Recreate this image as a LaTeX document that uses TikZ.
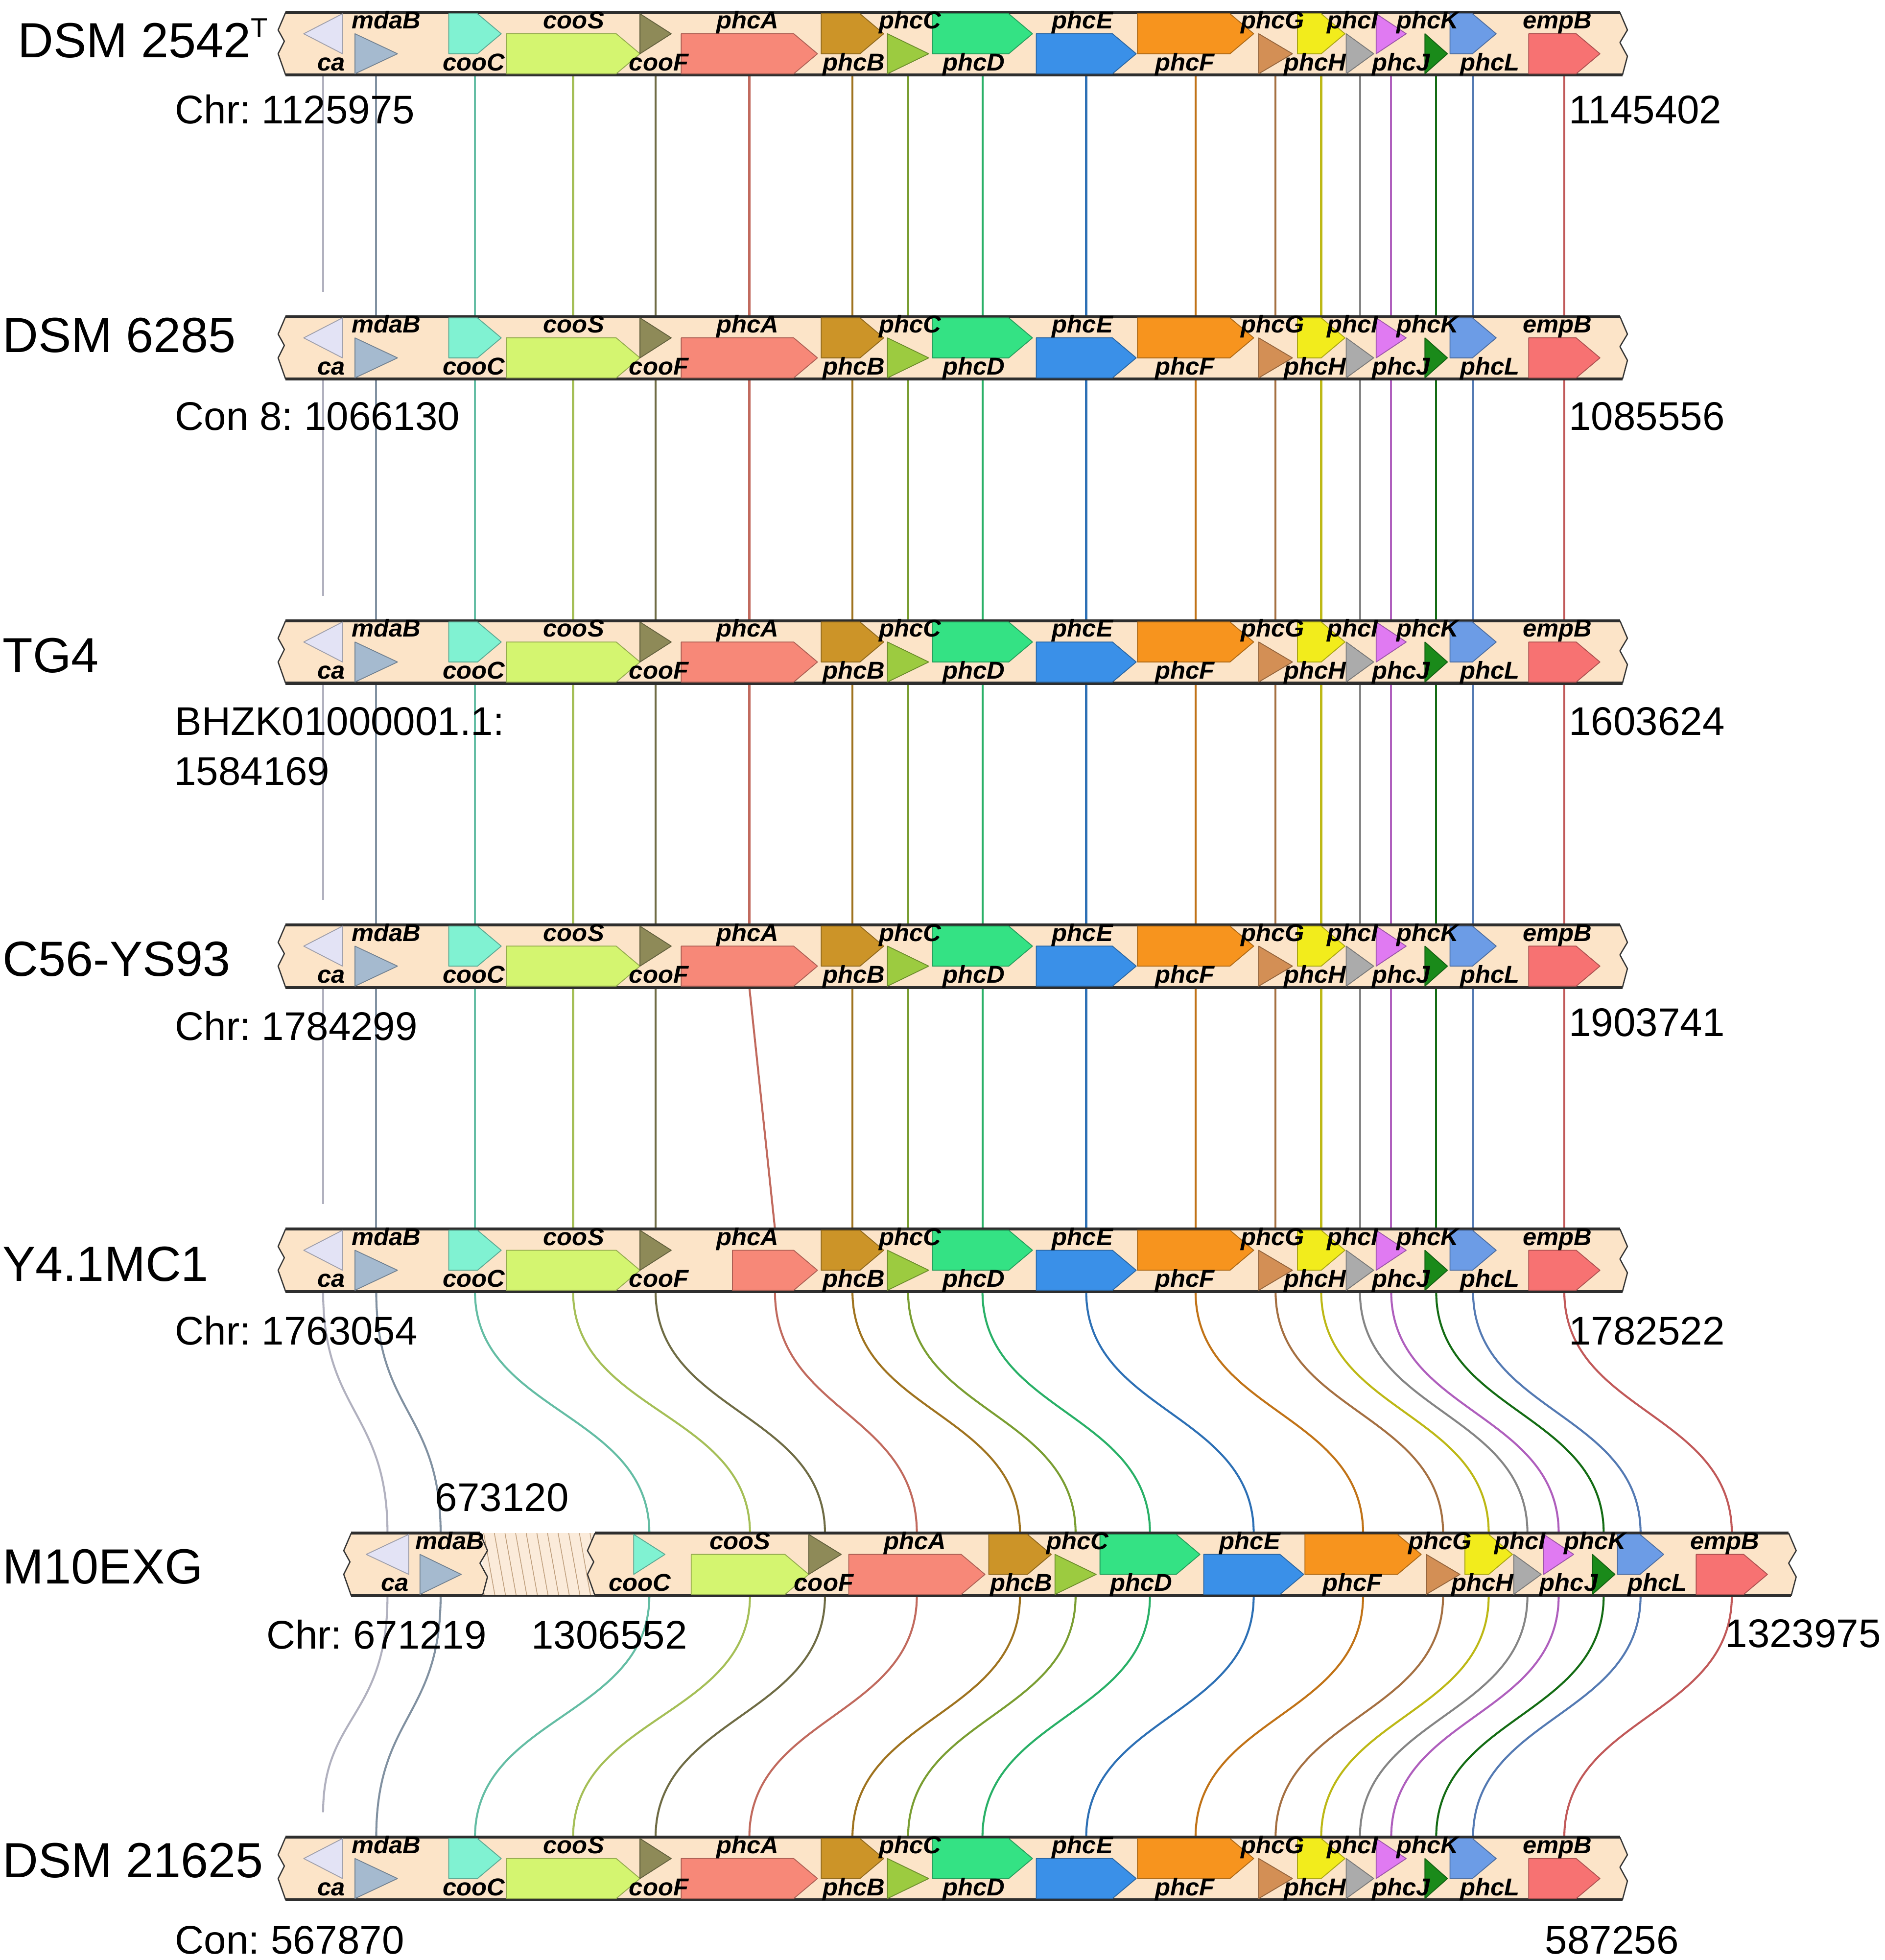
\documentclass[tikz,border=0pt]{standalone}
\usepackage{fontspec}
\setmainfont{Liberation Sans}
\newfontfamily\genefont[FakeStretch=1.02]{Liberation Sans}
\usetikzlibrary{backgrounds,calc}
\frenchspacing

\definecolor{barfill}{HTML}{FCE4C8}
\definecolor{hatchfill}{HTML}{FBEBDA}
\definecolor{gca}{HTML}{E3E3F5}
\definecolor{gmdaB}{HTML}{A5BACF}
\definecolor{gcooC}{HTML}{80F2D2}
\definecolor{gcooS}{HTML}{D4F570}
\definecolor{gcooF}{HTML}{8E8A58}
\definecolor{gphcA}{HTML}{F78878}
\definecolor{gphcB}{HTML}{CC9428}
\definecolor{gphcC}{HTML}{9CCB40}
\definecolor{gphcD}{HTML}{34E284}
\definecolor{gphcE}{HTML}{3A90E8}
\definecolor{gphcF}{HTML}{F7941E}
\definecolor{gphcG}{HTML}{D38F55}
\definecolor{gphcH}{HTML}{F2EC1C}
\definecolor{gphcI}{HTML}{ABABAB}
\definecolor{gphcJ}{HTML}{E07AF2}
\definecolor{gphcK}{HTML}{1A8A1A}
\definecolor{gphcL}{HTML}{6C9CE6}
\definecolor{gempB}{HTML}{F77272}

\begin{document}
\begin{tikzpicture}[x=1pt,y=-1pt,line join=round,
  gene/.style={fill=#1,draw=#1!70!black,line width=0.7pt},
  link/.style={draw=#1!78!black,line width=1.6pt},
  baredge/.style={draw=black!82,line width=2.4pt},
  zigedge/.style={draw=black!80,line width=1pt},
  hatch/.style={draw=black!25!barfill!70!brown,line width=0.6pt},
  glabel/.style={font=\genefont\bfseries\itshape\fontsize{19.5}{19.5}\selectfont,inner sep=0pt,anchor=base},
  strain/.style={font=\fontsize{39.5}{40}\selectfont,inner sep=0pt,anchor=base west},
  locus/.style={font=\fontsize{32}{32}\selectfont,inner sep=0pt,anchor=base west}]
\useasboundingbox (0,0) rectangle (1508,1568);
% bar of one track: left end, right end, centre line
\newcommand\trackbar[3]{%
  \fill[barfill] (#1+6,#3-25) -- (#2-6,#3-25) -- (#2,#3-11) -- (#2-6,#3-1) -- (#2,#3+10) -- (#2-4,#3+25)
    -- (#1+6,#3+25) -- (#1,#3+8) -- (#1+5,#3-2) -- (#1,#3-11) -- cycle;
  \draw[zigedge] (#2-6,#3-25) -- (#2,#3-11) -- (#2-6,#3-1) -- (#2,#3+10) -- (#2-4,#3+25);
  \draw[zigedge] (#1+6,#3-25) -- (#1,#3-11) -- (#1+5,#3-2) -- (#1,#3+8) -- (#1+6,#3+25);
  \draw[baredge] (#1+6,#3-25) -- (#2-6,#3-25) (#1+6,#3+25) -- (#2-4,#3+25);}
% genes of one track: list, track number, centre line
\newcommand\drawgenes[3]{%
  \foreach \xa/\xb/\row/\nm/\lx in #1 {
    \pgfmathsetmacro\hd{\xb-\xa<36 ? \xb-\xa : 19}
    \pgfmathsetmacro\ya{\row==2 ? #3-8 : #3-24}
    \pgfmathsetmacro\yb{\ya+32}
    \pgfmathsetmacro\ym{\ya+16}
    \pgfmathsetmacro\xc{(\xa+\xb)/2}
    \ifnum\row=3\relax
      \draw[gene=g\nm] (\xb,\ya) -- (\xa,\ym) -- (\xb,\yb) -- cycle;
    \else
      \draw[gene=g\nm] (\xa,\ya) -- (\xb-\hd,\ya) -- (\xb,\ym) -- (\xb-\hd,\yb) -- (\xa,\yb) -- cycle;
    \fi
    \coordinate (t#2-\nm-t) at (\xc,#3-25);
    \coordinate (t#2-\nm-b) at (\xc,#3+25);
  }
  \foreach \xa/\xb/\row/\nm/\lx in #1 {
    \pgfmathsetmacro\yl{\row==2 ? #3-12 : #3+21.5}
    \node[glabel] (t#2-\nm-l) at (\lx,\yl) {\nm};
  }}
% x from, x to, row (1 up, 2 down, 3 up and reversed), gene, label x
\def\stdgenes{243/274/3/ca/265, 284/318/2/mdaB/309, 359/401/1/cooC/379, 405/512/2/cooS/459,
  512/537/1/cooF/527, \pA/654/2/phcA/598, 657/707/1/phcB/683, 710/743/2/phcC/728,
  746/826/1/phcD/779, 829/909/2/phcE/866, 910/1003/1/phcF/948, 1007/1034/2/phcG/1018,
  1038/1076/1/phcH/1052, 1077/1099/2/phcI/1082, 1101/1125/1/phcJ/1121, 1140/1158/2/phcK/1142,
  1160/1197/1/phcL/1192, 1223/1280/2/empB/1246}
\def\mtengenes{293/327/3/ca/316, 336/369/2/mdaB/360, 507/532/1/cooC/512, 553/647/2/cooS/592,
  647/673/1/cooF/659, 679/788/2/phcA/732, 791/841/1/phcB/817, 844/877/2/phcC/862,
  880/960/1/phcD/913, 963/1043/2/phcE/1000, 1044/1137/1/phcF/1082, 1141/1168/2/phcG/1152,
  1172/1210/1/phcH/1186, 1211/1233/2/phcI/1216, 1235/1259/1/phcJ/1255, 1274/1292/2/phcK/1276,
  1294/1331/1/phcL/1326, 1357/1414/2/empB/1380}

% the six tracks with the same layout
\foreach \tr/\yc in {1/35,2/278.3,3/521.6,4/764.9,5/1008.2,7/1494.8}{
  \def\pA{545}\ifnum\tr=5 \def\pA{586}\fi
  \trackbar{222.5}{1302}{\yc}
  \drawgenes{\stdgenes}{\tr}{\yc}
}
% M10EXG, with the gap
\begin{scope}
  \clip (386,1226.5) rectangle (476,1276.5);
  \fill[hatchfill] (386,1226.5) rectangle (476,1276.5);
  \foreach \h in {370,378.5,...,480} \draw[hatch] (\h,1226.5) -- (\h+9,1276.5);
\end{scope}
\draw[baredge,line width=1.6pt] (386,1276.5) -- (476,1276.5);
\trackbar{275}{390}{1251.5}
\trackbar{470}{1437}{1251.5}
\drawgenes{\mtengenes}{6}{1251.5}

% links between the tracks
\begin{scope}[on background layer]
\foreach \nm/\sh in {ca/20,mdaB/0,cooC/0,cooS/0,cooF/0,phcA/0,phcB/0,phcC/0,phcD/0,
    phcE/0,phcF/0,phcG/0,phcH/0,phcI/0,phcJ/0,phcK/0,phcL/0,empB/0}{
  \foreach \ta/\tb in {1/2,2/3,3/4,4/5}
    \draw[link=g\nm,shorten >=\sh pt] (t\ta-\nm-b) -- (t\tb-\nm-t);
  \draw[link=g\nm] (t5-\nm-b) .. controls ($(t5-\nm-b)+(0,97)$) and ($(t6-\nm-t)+(0,-97)$) .. (t6-\nm-t);
  \draw[link=g\nm,shorten >=\sh pt] (t6-\nm-b) .. controls ($(t6-\nm-b)+(0,97)$) and ($(t7-\nm-t)+(0,-97)$) .. (t7-\nm-t);
}
\end{scope}

% strain names
\node[strain] (s1) at (14,46) {DSM 2542\raisebox{16pt}{\fontsize{22}{22}\selectfont T}};
\node[strain] (s2) at (2,282) {DSM 6285};
\node[strain] (s3) at (2,538) {TG4};
\node[strain] (s4) at (2,781) {C56-YS93};
\node[strain] (s5) at (2,1025) {Y4.1MC1};
\node[strain] (s6) at (2,1267) {M10EXG};
\node[strain] (s7) at (2,1502) {DSM 21625};
% positions
\node[locus] (p1a) at (140,99) {Chr: 1125975};
\node[locus] (p1b) at (1255,99) {1145402};
\node[locus] (p2a) at (140,344) {Con 8: 1066130};
\node[locus] (p2b) at (1255,344) {1085556};
\node[locus] (p3a) at (140,588) {BHZK01000001.1:};
\node[locus] (p3c) at (139,628) {1584169};
\node[locus] (p3b) at (1255,588) {1603624};
\node[locus] (p4a) at (140,832) {Chr: 1784299};
\node[locus] (p4b) at (1255,829) {1903741};
\node[locus] (p5a) at (140,1076) {Chr: 1763054};
\node[locus] (p5b) at (1255,1076) {1782522};
\node[locus] (p6c) at (348,1209) {673120};
\node[locus] (p6a) at (213,1319) {Chr: 671219};
\node[locus] (p6d) at (425,1319) {1306552};
\node[locus] (p6b) at (1380,1318) {1323975};
\node[locus] (p7a) at (140,1563) {Con: 567870};
\node[locus] (p7b) at (1236,1563) {587256};
\end{tikzpicture}
\end{document}
